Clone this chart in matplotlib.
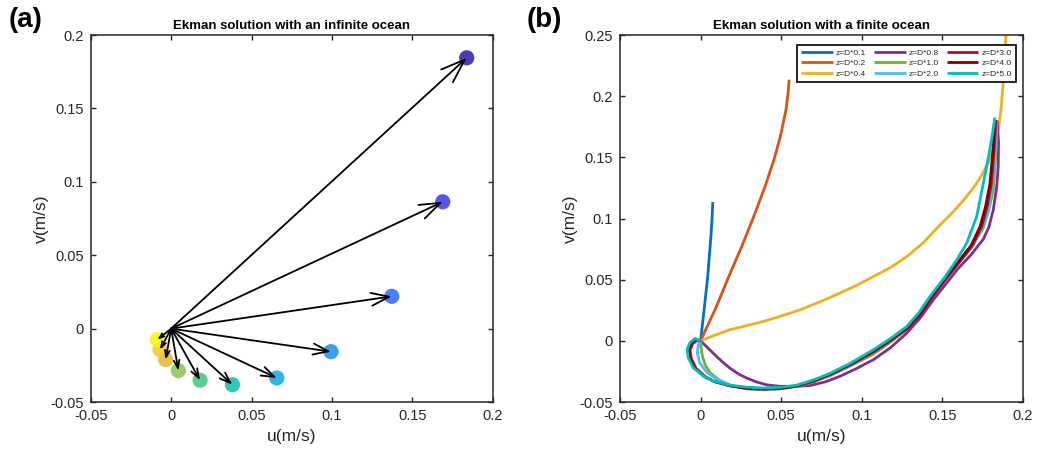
import numpy as np
import matplotlib
matplotlib.use('Agg')
import matplotlib.pyplot as plt
from matplotlib.patches import FancyArrowPatch

plt.rcParams['font.family'] = ['Liberation Sans', 'DejaVu Sans']

# (a) infinite ocean: velocity at successive depths (surface first)
u_inf = [0.1838, 0.1689, 0.1372, 0.0994, 0.0657, 0.0381, 0.0180, 0.0045, -0.0034, -0.0069, -0.0086]
v_inf = [0.1845, 0.0864, 0.0220, -0.0157, -0.0336, -0.0382, -0.0352, -0.0286, -0.0211, -0.0143, -0.0075]
parula11 = ['#3e26a8', '#4744e8', '#3d6ffe', '#2b94ee', '#1aafdc', '#1ec0b2', '#4cc88a',
            '#93c65a', '#e9b83b', '#f4c93a', '#f9f817']

# (b) finite ocean hodographs, bottom (origin) to surface
labels = ['z=D*0.1', 'z=D*0.2', 'z=D*0.4', 'z=D*0.8', 'z=D*1.0',
          'z=D*2.0', 'z=D*3.0', 'z=D*4.0', 'z=D*5.0']
colors = ['#0072bd', '#d95319', '#edb120', '#7e2f8e', '#77ac30',
          '#4dbeee', '#a2142f', '#800000', '#00bfbf']

u01 = [0, 0.0015, 0.0030, 0.0044, 0.0055, 0.0064, 0.0070, 0.0076]
v01 = [0, 0.017, 0.035, 0.052, 0.070, 0.085, 0.097, 0.1135]

u02 = [0, 0.0095, 0.0175, 0.0255, 0.0330, 0.0400, 0.0455, 0.0495, 0.0530, 0.0543, 0.0550]
v02 = [0, 0.0270, 0.0525, 0.0770, 0.1015, 0.1260, 0.1478, 0.1668, 0.1886, 0.2020, 0.2135]

u04 = [0, 0.0090, 0.0180, 0.0285, 0.0389, 0.0500, 0.0617, 0.0740, 0.0865, 0.0970, 0.1072, 0.1180,
       0.1280, 0.1385, 0.1486, 0.1565, 0.1633, 0.1694, 0.1744, 0.1784, 0.1814, 0.1836, 0.1852,
       0.1866, 0.1878, 0.1888, 0.1898]
v04 = [0, 0.0047, 0.0090, 0.0124, 0.0158, 0.0203, 0.0253, 0.0318, 0.0390, 0.0455, 0.0525, 0.0600,
       0.0688, 0.0805, 0.0947, 0.1050, 0.1150, 0.1250, 0.1350, 0.1450, 0.1550, 0.1650, 0.1750,
       0.1900, 0.2100, 0.2300, 0.2550]

u08 = [0, 0.0035, 0.0078, 0.0130, 0.0182, 0.0235, 0.0286, 0.0345, 0.0408, 0.0493, 0.0580, 0.0680,
       0.0775, 0.0865, 0.0970, 0.1072, 0.1180, 0.1280, 0.1365, 0.1445, 0.1520, 0.1595, 0.1680,
       0.1755, 0.1790, 0.1817, 0.1838, 0.1848, 0.1850, 0.1842]
v08 = [0, -0.0045, -0.0100, -0.0165, -0.0223, -0.0270, -0.0304, -0.0335, -0.0359, -0.0372, -0.0373, -0.0365,
       -0.0335, -0.0290, -0.0225, -0.0155, -0.0055, 0.0063, 0.0190, 0.0335, 0.0460, 0.0585, 0.0705,
       0.0830, 0.0930, 0.1069, 0.1250, 0.1423, 0.1620, 0.1798]

u10 = [0, 0.0004, 0.0012, 0.0030, 0.0062, 0.0115, 0.0182, 0.0285, 0.0389, 0.0495, 0.0596, 0.0700,
       0.0803, 0.0930, 0.1072, 0.1180, 0.1280, 0.1365, 0.1443, 0.1520, 0.1600, 0.1680, 0.1755,
       0.1790, 0.1817, 0.1835, 0.1840]
v10 = [0, -0.0060, -0.0128, -0.0200, -0.0264, -0.0320, -0.0362, -0.0392, -0.0400, -0.0392, -0.0373, -0.0335,
       -0.0285, -0.0205, -0.0110, -0.0010, 0.0095, 0.0225, 0.0367, 0.0500, 0.0630, 0.0770, 0.0922,
       0.1070, 0.1230, 0.1560, 0.1790]

u20 = [0, -0.0015, -0.0020, -0.0005, 0.0040, 0.0110, 0.0190, 0.0290, 0.0395, 0.0500, 0.0600, 0.0705,
       0.0810, 0.0935, 0.1075, 0.1180, 0.1285, 0.1365, 0.1435, 0.1520, 0.1600, 0.1690, 0.1750,
       0.1790, 0.1810, 0.1830, 0.1838]
v20 = [0, -0.0040, -0.0100, -0.0180, -0.0260, -0.0320, -0.0365, -0.0390, -0.0398, -0.0390, -0.0370, -0.0330,
       -0.0278, -0.0195, -0.0095, 0.0000, 0.0105, 0.0225, 0.0355, 0.0495, 0.0630, 0.0775, 0.0920,
       0.1080, 0.1270, 0.1550, 0.1805]

u30 = [0, -0.0022, -0.0050, -0.0065, -0.0058, -0.0028, 0.0030, 0.0090, 0.0188, 0.0290, 0.0392, 0.0497,
       0.0598, 0.0702, 0.0808, 0.0935, 0.1075, 0.1183, 0.1285, 0.1365, 0.1432, 0.1515, 0.1595,
       0.1685, 0.1745, 0.1780, 0.1805, 0.1822, 0.1835]
v30 = [0, 0.0005, -0.0025, -0.0075, -0.0145, -0.0225, -0.0293, -0.0335, -0.0370, -0.0390, -0.0396, -0.0389,
       -0.0370, -0.0330, -0.0275, -0.0193, -0.0090, 0.0005, 0.0100, 0.0218, 0.0345, 0.0492, 0.0625,
       0.0775, 0.0930, 0.1100, 0.1280, 0.1550, 0.1805]

u40 = [0, -0.0030, -0.0060, -0.0076, -0.0070, -0.0040, 0.0020, 0.0082, 0.0185, 0.0288, 0.0390, 0.0495,
       0.0596, 0.0700, 0.0805, 0.0930, 0.1072, 0.1180, 0.1280, 0.1360, 0.1425, 0.1510, 0.1590,
       0.1680, 0.1735, 0.1770, 0.1797, 0.1815, 0.1825]
v40 = [0, 0.0012, -0.0018, -0.0070, -0.0140, -0.0220, -0.0290, -0.0330, -0.0366, -0.0385, -0.0392, -0.0386,
       -0.0368, -0.0328, -0.0272, -0.0190, -0.0085, 0.0010, 0.0105, 0.0220, 0.0345, 0.0495, 0.0630,
       0.0780, 0.0933, 0.1100, 0.1287, 0.1550, 0.1810]

u50 = [0, -0.0034, -0.0066, -0.0083, -0.0077, -0.0046, 0.0016, 0.0078, 0.0182, 0.0285, 0.0389, 0.0495,
       0.0596, 0.0700, 0.0803, 0.0927, 0.1072, 0.1180, 0.1280, 0.1355, 0.1424, 0.1510, 0.1590,
       0.1652, 0.1714, 0.1745, 0.1776, 0.1805, 0.1828]
v50 = [0, 0.0019, -0.0014, -0.0068, -0.0136, -0.0218, -0.0286, -0.0327, -0.0362, -0.0378, -0.0386, -0.0380,
       -0.0362, -0.0320, -0.0266, -0.0185, -0.0073, 0.0020, 0.0117, 0.0230, 0.0362, 0.0510, 0.0661,
       0.0798, 0.1015, 0.1220, 0.1423, 0.1630, 0.1826]

us = [u01, u02, u04, u08, u10, u20, u30, u40, u50]
vs = [v01, v02, v04, v08, v10, v20, v30, v40, v50]

fig = plt.figure(figsize=(10.37, 4.51), dpi=100)
ax1 = fig.add_axes([0.0875, 0.1086, 0.3877, 0.8137])
ax2 = fig.add_axes([0.5979, 0.1086, 0.3883, 0.8137])

dark = '#262626'


def style(ax):
    for s in ax.spines.values():
        s.set_linewidth(1.1)
        s.set_color(dark)
    ax.tick_params(direction='in', length=3.5, width=1.0, color=dark,
                   labelcolor=dark, labelsize=10.5, top=True, right=True, pad=5)
    ax.set_xlabel('u(m/s)', fontsize=12.5, color=dark, labelpad=4)
    ax.set_ylabel('v(m/s)', fontsize=12.5, color=dark, labelpad=1)


# panel (a)
ax1.scatter(u_inf, v_inf, s=120, c=parula11, alpha=0.9, edgecolors='none', zorder=2)
ax1.set_xlim(-0.05, 0.2)
ax1.set_ylim(-0.05, 0.2)
ax1.set_xticks([-0.05, 0, 0.05, 0.1, 0.15, 0.2])
ax1.set_xticklabels(['-0.05', '0', '0.05', '0.1', '0.15', '0.2'])
ax1.set_yticks([-0.05, 0, 0.05, 0.1, 0.15, 0.2])
ax1.set_yticklabels(['-0.05', '0', '0.05', '0.1', '0.15', '0.2'])
fig.canvas.draw()
for u, v in zip(u_inf, v_inf):
    p0 = ax1.transData.transform((0, 0))
    p1 = ax1.transData.transform((u, v))
    L = np.hypot(*(p1 - p0))
    head_px = min(25, 1.2 * np.sqrt(L))
    arr = FancyArrowPatch((0, 0), (u, v), arrowstyle='->,head_length=1.0,head_width=0.36',
                          mutation_scale=head_px * 72 / fig.dpi, lw=1.3, color='black',
                          shrinkA=0, shrinkB=0, zorder=3)
    ax1.add_patch(arr)
ax1.set_title('Ekman solution with an infinite ocean', fontsize=9.5,
              fontweight='bold', pad=4)
style(ax1)

# panel (b)
for u, v, c, lab in zip(us, vs, colors, labels):
    ax2.plot(u, v, color=c, lw=2.0, label=lab, solid_capstyle='butt', solid_joinstyle='round')
ax2.set_xlim(-0.05, 0.2)
ax2.set_ylim(-0.05, 0.25)
ax2.set_xticks([-0.05, 0, 0.05, 0.1, 0.15, 0.2])
ax2.set_xticklabels(['-0.05', '0', '0.05', '0.1', '0.15', '0.2'])
ax2.set_yticks([-0.05, 0, 0.05, 0.1, 0.15, 0.2, 0.25])
ax2.set_yticklabels(['-0.05', '0', '0.05', '0.1', '0.15', '0.2', '0.25'])
ax2.set_title('Ekman solution with a finite ocean', fontsize=9.5,
              fontweight='bold', pad=4)
style(ax2)
leg = ax2.legend(ncol=3, loc='upper right', bbox_to_anchor=(0.9834, 0.9728),
                 borderaxespad=0, fontsize=6.0, handlelength=3.8,
                 handletextpad=0.4, columnspacing=0.9, labelspacing=0.3,
                 fancybox=False, framealpha=1, edgecolor='black',
                 borderpad=0.5)
leg.get_frame().set_linewidth(1.2)
for line in leg.get_lines():
    line.set_linewidth(2.0)
for t in leg.get_texts():
    t.set_color(dark)

fig.text(0.008, 0.955, '(a)', fontsize=20, fontweight='bold', va='center', ha='left')
fig.text(0.508, 0.955, '(b)', fontsize=20, fontweight='bold', va='center', ha='left')

fig.savefig('out.png', dpi=100)
